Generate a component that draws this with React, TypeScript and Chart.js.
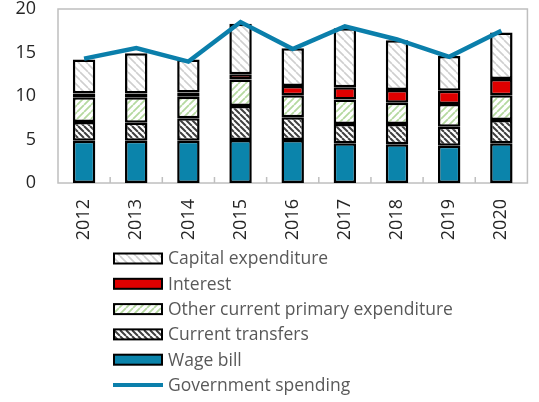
import React, { useEffect, useRef } from "react";
import { Chart, registerables } from "chart.js";

Chart.register(...registerables);

const years = ["2012", "2013", "2014", "2015", "2016", "2017", "2018", "2019", "2020"];
const wageBill = [4.86, 4.86, 4.86, 4.94, 4.94, 4.56, 4.44, 4.29, 4.56];
const currentTransfers = [2.14, 2.07, 2.57, 3.91, 2.61, 2.22, 2.34, 2.18, 2.68];
const otherCurrent = [2.85, 2.92, 2.49, 3.05, 2.55, 2.82, 2.45, 2.61, 2.86];
const interest = [0.45, 0.45, 0.48, 0.6, 1.05, 1.4, 1.47, 1.52, 1.85];
const capital = [3.9, 4.6, 3.8, 5.8, 4.35, 6.8, 5.7, 4.0, 5.35];
const govSpending = [14.3, 15.5, 13.95, 18.5, 15.4, 18.0, 16.5, 14.5, 17.5];
const yTicks = [0, 5, 10, 15, 20];

const FONT = "'Open Sans', 'Noto Sans', sans-serif";
const TEAL = "#0b84ab";
const LINE = "#0b7fab";

function hatch(bg: string, fg: string, size: number, lw: number, dir: "back" | "fwd") {
  const c = document.createElement("canvas");
  c.width = size;
  c.height = size;
  const ctx = c.getContext("2d")!;
  ctx.fillStyle = bg;
  ctx.fillRect(0, 0, size, size);
  ctx.strokeStyle = fg;
  ctx.lineWidth = lw;
  ctx.beginPath();
  for (const o of [-size, 0, size]) {
    if (dir === "back") {
      ctx.moveTo(o, 0);
      ctx.lineTo(o + size, size);
    } else {
      ctx.moveTo(o, size);
      ctx.lineTo(o + size, 0);
    }
  }
  ctx.stroke();
  return ctx.createPattern(c, "repeat")!;
}

export default function App() {
  const ref = useRef<HTMLCanvasElement>(null);
  useEffect(() => {
    document.body.style.margin = "0";
    const capPat = hatch("#ffffff", "#cfcfcf", 8, 1.6, "back");
    const otherPat = hatch("#ffffff", "#b5d9a0", 7, 1.8, "fwd");
    const transPat = hatch("#ffffff", "#404040", 6, 2, "back");

    const barCommon = {
      type: "bar" as const,
      borderColor: "#000000",
      borderWidth: 2.5,
      borderSkipped: false as const,
      barPercentage: 0.43,
      categoryPercentage: 1,
      stack: "s",
      order: 2,
    };

    const legendItems = [
      { label: "Capital expenditure", fill: capPat, kind: "box" },
      { label: "Interest", fill: "#e00000", kind: "box" },
      { label: "Other current primary expenditure", fill: otherPat, kind: "box" },
      { label: "Current transfers", fill: transPat, kind: "box" },
      { label: "Wage bill", fill: TEAL, kind: "box" },
      { label: "Government spending", fill: LINE, kind: "line" },
    ];

    const extras = {
      id: "extras",
      beforeDatasetsDraw(chart: any) {
        const { ctx, chartArea } = chart;
        const xs = chart.scales.x;
        ctx.save();
        ctx.strokeStyle = "#bfbfbf";
        ctx.lineWidth = 1.5;
        ctx.strokeRect(chartArea.left, chartArea.top, chartArea.right - chartArea.left, chartArea.bottom - chartArea.top);
        ctx.beginPath();
        for (let i = 1; i < years.length; i++) {
          const x = (xs.getPixelForTick(i - 1) + xs.getPixelForTick(i)) / 2;
          ctx.moveTo(x, chartArea.bottom);
          ctx.lineTo(x, chartArea.bottom - 6);
        }
        ctx.stroke();
        ctx.restore();
      },
      afterDraw(chart: any) {
        const { ctx } = chart;
        ctx.save();
        const x0 = 114;
        const y0 = 258.5;
        const step = 25.3;
        ctx.font = `17.5px ${FONT}`;
        ctx.textBaseline = "middle";
        legendItems.forEach((it, i) => {
          const yc = y0 + i * step;
          if (it.kind === "box") {
            ctx.fillStyle = it.fill;
            ctx.fillRect(x0, yc - 5, 48, 10);
            ctx.strokeStyle = "#000";
            ctx.lineWidth = 2;
            ctx.strokeRect(x0, yc - 5, 48, 10);
          } else {
            ctx.strokeStyle = it.fill as string;
            ctx.lineWidth = 4;
            ctx.beginPath();
            ctx.moveTo(x0 - 1, yc);
            ctx.lineTo(x0 + 49, yc);
            ctx.stroke();
          }
          ctx.fillStyle = "#595959";
          ctx.fillText(it.label, x0 + 54, yc + 1);
        });
        ctx.restore();
      },
    };

    const chart = new Chart(ref.current!, {
      data: {
        labels: years,
        datasets: [
          {
            type: "line",
            label: "Government spending",
            data: govSpending,
            borderColor: LINE,
            borderWidth: 4.5,
            pointRadius: 0,
            tension: 0,
            order: 1,
          } as any,
          { ...barCommon, label: "Wage bill", data: wageBill, backgroundColor: TEAL },
          { ...barCommon, label: "Current transfers", data: currentTransfers, backgroundColor: transPat },
          { ...barCommon, label: "Other current primary expenditure", data: otherCurrent, backgroundColor: otherPat },
          { ...barCommon, label: "Interest", data: interest, backgroundColor: "#e00000" },
          { ...barCommon, label: "Capital expenditure", data: capital, backgroundColor: capPat },
        ],
      },
      options: {
        responsive: false,
        animation: false,
        layout: { padding: { left: 0, right: 1, top: 9, bottom: 157 } },
        plugins: { legend: { display: false }, tooltip: { enabled: false } },
        scales: {
          x: {
            stacked: true,
            grid: { display: false, drawTicks: false },
            border: { display: false },
            ticks: {
              minRotation: 90,
              maxRotation: 90,
              padding: 16,
              color: "#262626",
              font: { family: FONT, size: 18 },
            },
            afterFit(scale: any) {
              scale.height = 62;
            },
          },
          y: {
            stacked: true,
            min: 0,
            max: 20,
            afterBuildTicks(scale: any) {
              scale.ticks = yTicks.map((v) => ({ value: v }));
            },
            grid: { display: false, drawTicks: false },
            border: { display: false },
            ticks: {
              padding: 22,
              color: "#262626",
              font: { family: FONT, size: 18 },
            },
            afterFit(scale: any) {
              scale.width = 58;
              scale.paddingTop = 9;
            },
          },
        },
      },
      plugins: [extras],
    });
    return () => chart.destroy();
  }, []);
  return (
    <div style={{ width: 539, height: 402 }}>
      <canvas ref={ref} width={539} height={402} />
    </div>
  );
}
